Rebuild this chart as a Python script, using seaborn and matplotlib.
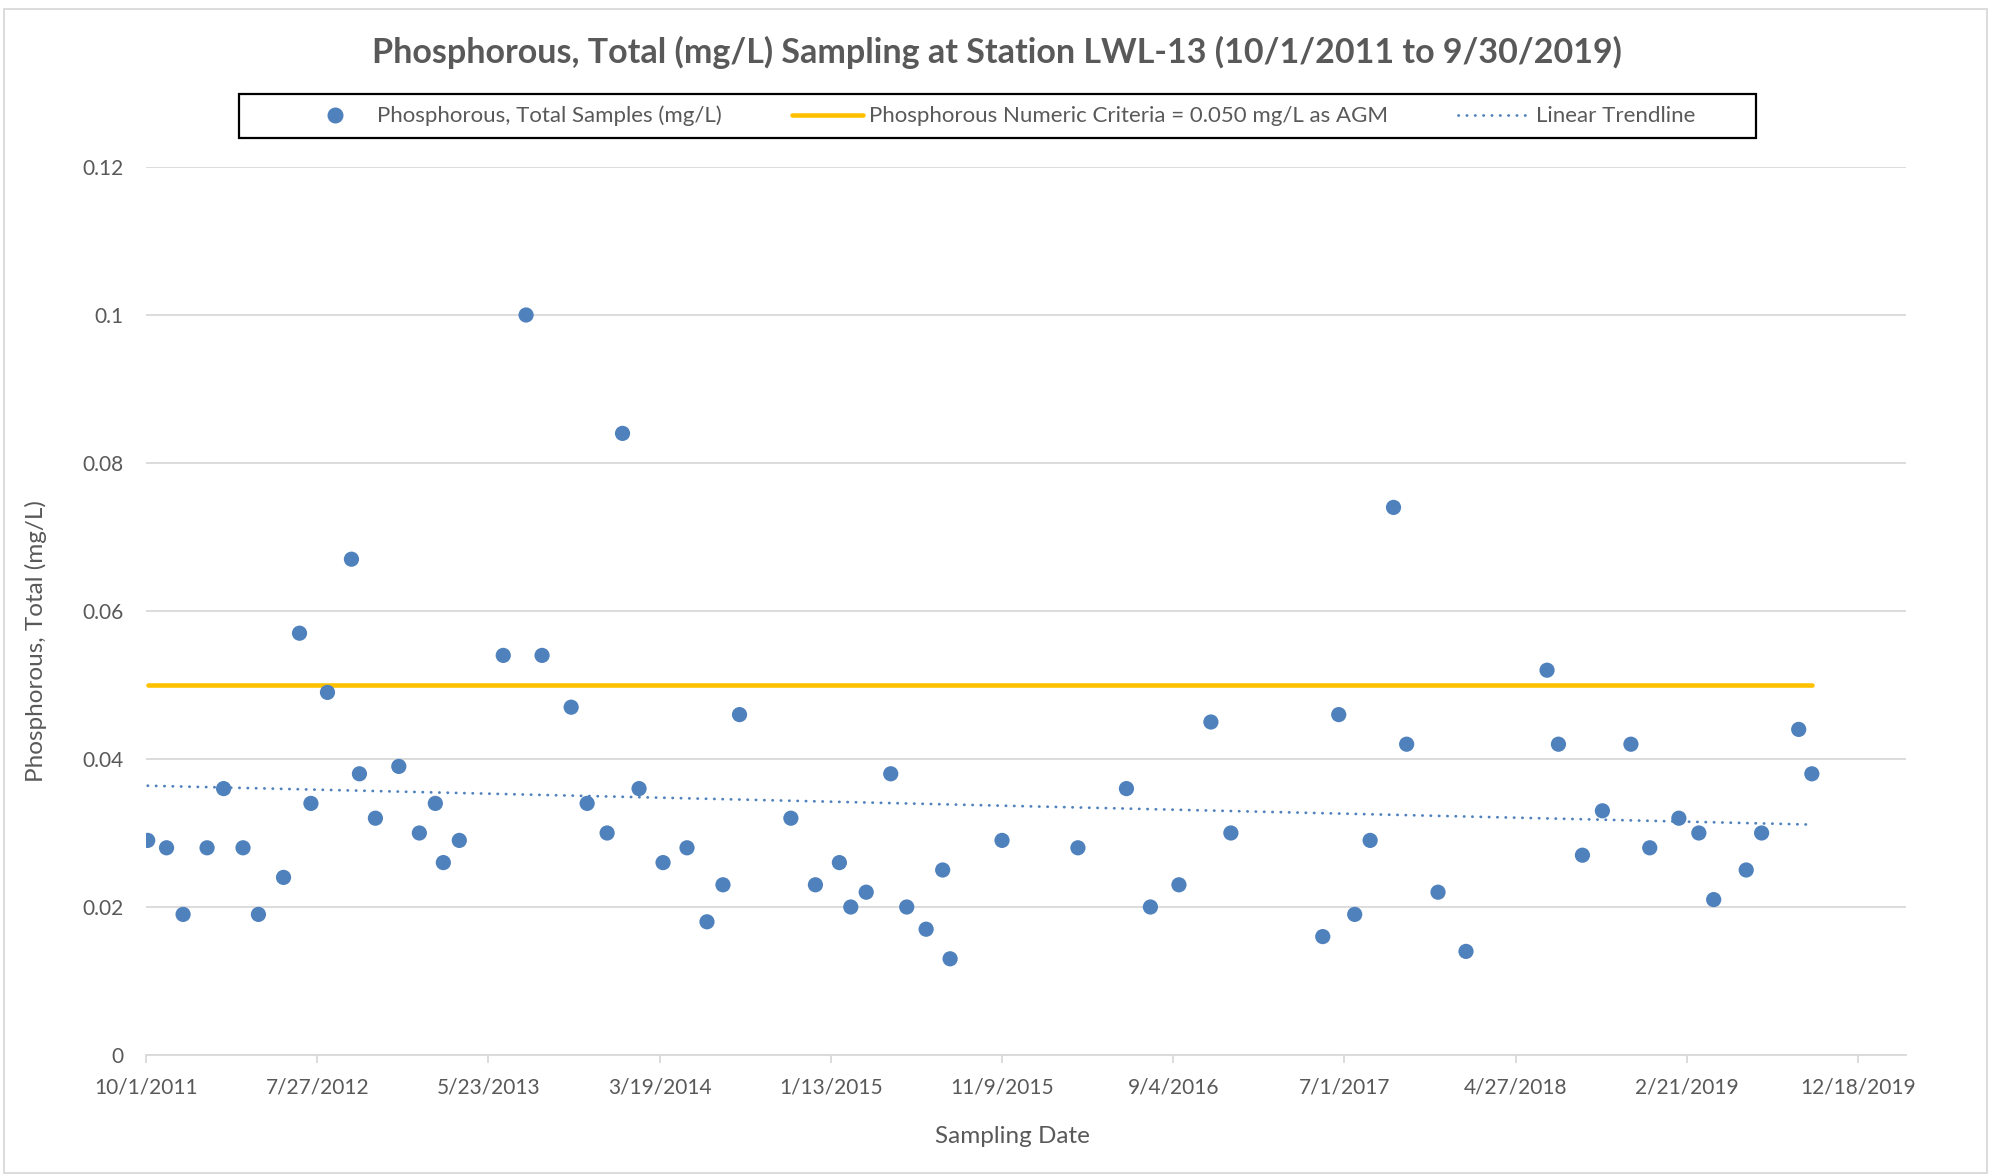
import numpy as np
import pandas as pd
import seaborn as sns
import matplotlib.pyplot as plt
from matplotlib.lines import Line2D
from matplotlib.patches import Rectangle

# sample dates, given as days after 10/1/2011, and the measured values
start = '2011-10-01'
sample_days = [3, 36, 65, 107, 136, 170, 197, 241, 269, 289,
               318, 360, 374, 402, 443, 479, 507, 521, 549, 626,
               666, 694, 745, 773, 808, 835, 864, 906, 948, 983,
               1011, 1040, 1130, 1173, 1215, 1235, 1262, 1305, 1333, 1367,
               1396, 1409, 1500, 1633, 1718, 1760, 1810, 1866, 1901, 2062,
               2090, 2118, 2145, 2186, 2209, 2264, 2313, 2455, 2475, 2517,
               2552, 2602, 2635, 2686, 2721, 2747, 2804, 2831, 2896, 2919]
phos = [0.029, 0.028, 0.019, 0.028, 0.036, 0.028, 0.019, 0.024, 0.057, 0.034,
        0.049, 0.067, 0.038, 0.032, 0.039, 0.030, 0.034, 0.026, 0.029, 0.054,
        0.100, 0.054, 0.047, 0.034, 0.030, 0.084, 0.036, 0.026, 0.028, 0.018,
        0.023, 0.046, 0.032, 0.023, 0.026, 0.020, 0.022, 0.038, 0.020, 0.017,
        0.025, 0.013, 0.029, 0.028, 0.036, 0.020, 0.023, 0.045, 0.030, 0.016,
        0.046, 0.019, 0.029, 0.074, 0.042, 0.022, 0.014, 0.052, 0.042, 0.027,
        0.033, 0.042, 0.028, 0.032, 0.030, 0.021, 0.025, 0.030, 0.044, 0.038]
criteria = 0.050

x_tick_labels = ['10/1/2011', '7/27/2012', '5/23/2013', '3/19/2014', '1/13/2015',
                 '11/9/2015', '9/4/2016', '7/1/2017', '4/27/2018', '2/21/2019',
                 '12/18/2019']
y_ticks = [0, 0.02, 0.04, 0.06, 0.08, 0.1, 0.12]

series_labels = ['Phosphorous, Total Samples (mg/L)',
                 'Phosphorous Numeric Criteria = 0.050 mg/L as AGM',
                 'Linear Trendline']

blue = '#4F81BD'
gold = '#FFC000'
grey_txt = '#595959'
grey_line = '#D9D9D9'

sns.set_theme(style='white')
plt.rcParams['font.family'] = ['Lato', 'DejaVu Sans']

df = pd.DataFrame({'date': pd.Timestamp(start) + pd.to_timedelta(sample_days, unit='D'),
                   'phos': phos})

# Excel style linear trendline over the sampled period
coef = np.polyfit(sample_days, phos, 1)
trend = pd.DataFrame({'date': [df['date'].iloc[0], df['date'].iloc[-1]],
                      'phos': np.polyval(coef, [sample_days[0], sample_days[-1]])})
crit = pd.DataFrame({'date': [df['date'].iloc[0], df['date'].iloc[-1]],
                     'phos': [criteria, criteria]})

W, H = 1992, 1176
fig = plt.figure(figsize=(W / 100, H / 100), dpi=100)
ax = fig.add_axes([146 / W, 1 - 1055 / H, 1760 / W, 888 / H])

dots = (0, (0.1, 2.9))
sns.lineplot(data=crit, x='date', y='phos', ax=ax, color=gold, lw=3.3,
             solid_capstyle='round', zorder=2)
sns.lineplot(data=trend, x='date', y='phos', ax=ax, color=blue, lw=2.0,
             linestyle=dots, dash_capstyle='round', zorder=2)
sns.scatterplot(data=df, x='date', y='phos', ax=ax, color=blue, s=120,
                edgecolor='none', zorder=3)

ax.set_xlim(pd.Timestamp(start), pd.Timestamp(start) + pd.Timedelta(days=3084))
ax.set_ylim(0, 0.12)
ax.set_xticks(pd.to_datetime(x_tick_labels, format='%m/%d/%Y'))
ax.set_xticklabels(x_tick_labels)
ax.set_yticks(y_ticks)
ax.set_yticklabels([f'{v:g}' for v in y_ticks])

ax.yaxis.grid(True, color=grey_line, lw=1.3)
ax.xaxis.grid(False)
for s in ['top', 'right', 'left']:
    ax.spines[s].set_visible(False)
ax.spines['bottom'].set_color(grey_line)
ax.spines['bottom'].set_linewidth(1.3)

ax.tick_params(axis='x', bottom=True, direction='out', length=6, width=1.3,
               color=grey_line, labelsize=15, labelcolor=grey_txt, pad=10.5)
ax.tick_params(axis='y', left=False, length=0, labelsize=15, labelcolor=grey_txt, pad=16)

ax.set_xlabel('Sampling Date', fontsize=17.5, color=grey_txt)
ax.set_ylabel('Phosphorous, Total (mg/L)', fontsize=17.5, color=grey_txt)
ax.xaxis.label.set_va('center')
ax.xaxis.set_label_coords(0.4923, -0.092)
ax.yaxis.label.set_va('center')
ax.yaxis.set_label_coords(-0.0625, 0.466)

fig.text(0.5003, 1 - 52 / H,
         'Phosphorous, Total (mg/L) Sampling at Station LWL-13 (10/1/2011 to 9/30/2019)',
         ha='center', va='center', fontsize=24.5, weight='bold', color=grey_txt)

# legend box and entries
fig.patches.append(Rectangle((239 / W, 1 - 138 / H), (1756 - 239) / W, 44 / H,
                             transform=fig.transFigure, fill=False,
                             edgecolor='black', lw=1.6, zorder=5))
handles = [Line2D([], [], marker='o', ls='none', color=blue, markersize=10.5),
           Line2D([], [], color=gold, lw=3.3),
           Line2D([], [], color=blue, lw=2.0, ls=dots, dash_capstyle='round')]
fig.legend(handles, series_labels, ncol=3, loc='center',
           bbox_to_anchor=(997.5 / W, 1 - 116 / H), frameon=False,
           fontsize=16, labelcolor=grey_txt, handlelength=3.2,
           handletextpad=0.29, columnspacing=3.15)

# outer chart border
fig.patches.append(Rectangle((4 / W, 3 / H), (1987 - 4) / W, (1173 - 9) / H,
                             transform=fig.transFigure, fill=False,
                             edgecolor=grey_line, lw=1.3))

fig.savefig('out.png', dpi=100, facecolor='white')
